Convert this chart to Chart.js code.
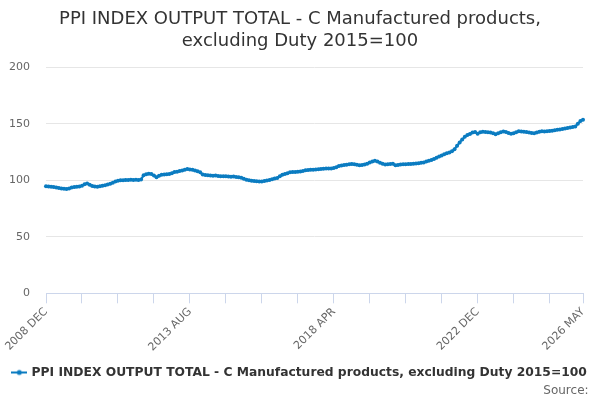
<!DOCTYPE html>
<html>
<head>
<meta charset="utf-8">
<script src="https://cdn.jsdelivr.net/npm/chart.js@4/dist/chart.umd.min.js"></script>
<style>
  html, body { margin: 0; padding: 0; background: #fff; }
  #wrap { width: 600px; height: 400px; }
</style>
</head>
<body>
<div id="wrap"><canvas id="chart"></canvas></div>
<script>
// monthly series, 2008 DEC .. 2026 MAY
const startYear = 2008;
const startMonth = 11; // DEC
const monthNames = ['JAN', 'FEB', 'MAR', 'APR', 'MAY', 'JUN', 'JUL', 'AUG', 'SEP', 'OCT', 'NOV', 'DEC'];
const shownLabels = ['2008 DEC', '2013 AUG', '2018 APR', '2022 DEC', '2026 MAY'];
const yTicks = [0, 50, 100, 150, 200];
const seriesName = 'PPI INDEX OUTPUT TOTAL - C Manufactured products, excluding Duty 2015=100';

const values = [
  94.8, 94.5, 94.3, 94.0, 93.6, 93.2, 92.8, 92.4, 92.3, 92.8,
  93.6, 94.0, 94.2, 94.5, 95.2, 96.5, 97.2, 96.0, 95.0, 94.4,
  94.2, 94.6, 95.2, 95.6, 96.2, 97.0, 97.8, 98.8, 99.5, 99.9,
  100.1, 100.3, 100.2, 100.5, 100.3, 100.4, 100.2, 100.6, 104.5, 105.2,
  105.8, 105.5, 104.3, 102.6, 104.0, 104.8, 105.0, 105.2, 105.5, 106.3,
  107.3, 107.5, 108.2, 108.6, 109.3, 110.0, 109.5, 109.2, 108.6, 108.0,
  107.0, 105.0, 104.6, 104.4, 104.3, 104.0, 104.1, 103.7, 103.6, 103.5,
  103.6, 103.3, 103.2, 103.3, 102.9, 102.6, 102.3, 101.4, 100.4, 100.0,
  99.6, 99.3, 99.1, 99.0, 98.9, 99.4, 99.8, 100.3, 100.8, 101.6,
  102.0, 103.5, 104.9, 105.6, 106.2, 107.0, 107.2, 107.3, 107.6, 107.8,
  108.2, 108.8, 109.0, 109.2, 109.3, 109.6, 109.8, 110.0, 110.2, 110.3,
  110.5, 110.4, 110.8, 111.6, 112.5, 113.0, 113.4, 113.8, 114.2, 114.4,
  114.2, 113.7, 113.2, 113.4, 114.0, 114.7, 115.6, 116.5, 117.2, 116.5,
  115.4, 114.6, 114.0, 114.2, 114.4, 114.6, 113.2, 113.6, 114.0, 114.2,
  114.2, 114.3, 114.4, 114.5, 114.8, 115.0, 115.4, 115.8, 116.5, 117.2,
  118.0, 118.8, 119.8, 121.0, 122.0, 123.0, 123.8, 124.6, 125.6, 127.4,
  130.5, 133.5, 136.0, 138.5, 140.0, 141.0, 142.3, 142.6, 141.2, 142.4,
  142.8, 142.7, 142.5, 142.2, 141.6, 140.8, 141.6, 142.4, 143.2, 142.6,
  141.8, 141.2, 141.6, 142.4, 143.4, 143.2, 142.8, 142.6, 142.2, 141.8,
  141.6, 142.2, 142.8, 143.4, 143.2, 143.4, 143.6, 143.8, 144.2, 144.6,
  145.0, 145.3, 145.8, 146.2, 146.6, 147.2, 147.6, 150.0, 152.5, 153.5
];

const labels = [];
for (let i = 0; i < values.length; i++) {
  const m = startMonth + i;
  labels.push((startYear + Math.floor(m / 12)) + ' ' + monthNames[m % 12]);
}

const lineColor = '#0b7cc1';
const lastIndex = labels.length - 1;

// legend symbol: short line with a dot
const legendIcon = document.createElement('canvas');
legendIcon.width = 16;
legendIcon.height = 8;
(function () {
  const g = legendIcon.getContext('2d');
  g.strokeStyle = lineColor;
  g.lineWidth = 2;
  g.beginPath();
  g.moveTo(0, 4);
  g.lineTo(16, 4);
  g.stroke();
  g.fillStyle = lineColor;
  g.beginPath();
  g.arc(8, 4, 2.5, 0, Math.PI * 2);
  g.fill();
})();

Chart.defaults.font.family = '"DejaVu Sans", sans-serif';

new Chart(document.getElementById('chart'), {
  type: 'line',
  data: {
    labels: labels,
    datasets: [{
      label: seriesName,
      data: values,
      borderColor: lineColor,
      backgroundColor: lineColor,
      borderWidth: 2.2,
      pointRadius: 2,
      pointBorderWidth: 0,
      pointHoverRadius: 3,
      tension: 0
    }]
  },
  options: {
    responsive: true,
    maintainAspectRatio: false,
    animation: false,
    layout: { padding: 0 },
    plugins: {
      title: {
        display: true,
        text: ['PPI INDEX OUTPUT TOTAL - C Manufactured products,', 'excluding Duty 2015=100'],
        color: '#333333',
        font: { size: 18, weight: 'normal' },
        padding: { top: 9, bottom: 15 }
      },
      subtitle: {
        display: true,
        text: 'Source:   ',
        position: 'bottom',
        align: 'end',
        color: '#666666',
        font: { size: 12, weight: 'normal' },
        padding: { top: -5, bottom: 2 }
      },
      legend: {
        position: 'bottom',
        labels: {
          usePointStyle: true,
          pointStyle: legendIcon,
          color: '#333333',
          font: { size: 12.3, weight: 'bold' },
          padding: 3
        }
      },
      tooltip: { enabled: false }
    },
    scales: {
      x: {
        type: 'category',
        grid: {
          drawOnChartArea: false,
          drawTicks: true,
          tickLength: 10,
          color: (ctx) => (ctx.index % 14 === 0 || ctx.index === lastIndex) ? '#ccd6eb' : 'rgba(0,0,0,0)'
        },
        border: { color: '#ccd6eb' },
        ticks: {
          autoSkip: false,
          minRotation: 45,
          maxRotation: 45,
          color: '#666666',
          font: { size: 11 },
          padding: 2,
          callback: function (value, index) {
            const lab = labels[index];
            return shownLabels.includes(lab) ? lab : '';
          }
        },
        afterFit: (scale) => { scale.height = 70; }
      },
      y: {
        min: 0,
        max: 200,
        afterBuildTicks: (scale) => { scale.ticks = yTicks.map(v => ({ value: v })); },
        grid: { color: '#e6e6e6', drawTicks: false },
        border: { display: false },
        ticks: { color: '#666666', font: { size: 11 }, padding: 16 },
        afterFit: (scale) => { scale.width = 46; }
      },
      // empty right-hand axis, only reserves the right margin
      yRight: {
        position: 'right',
        display: true,
        grid: { display: false },
        border: { display: false },
        ticks: { display: false },
        afterFit: (scale) => { scale.width = 17; }
      }
    }
  }
});
</script>
</body>
</html>
